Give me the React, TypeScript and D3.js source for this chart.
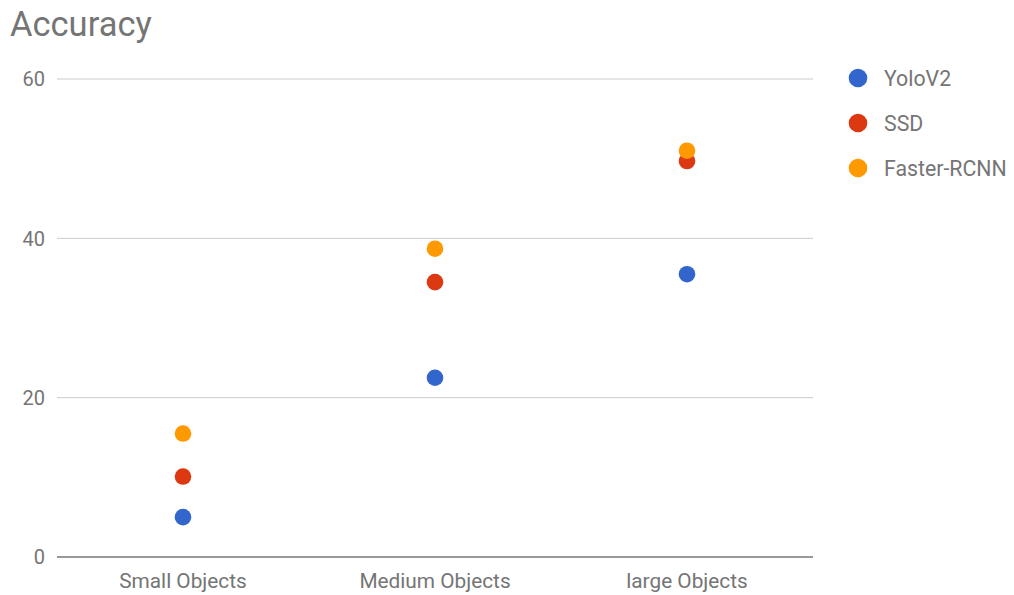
import React from "react";
import * as d3 from "d3";

const categories = ["Small Objects", "Medium Objects", "large Objects"];
const seriesNames = ["YoloV2", "SSD", "Faster-RCNN"];
const yoloV2 = [5.0, 22.5, 35.5];
const ssd = [10.1, 34.5, 49.7];
const fasterRCNN = [15.5, 38.7, 51.0];
const yTicks = [0, 20, 40, 60];
const colors = ["#3366cc", "#dc3912", "#ff9900"];

export default function App() {
  const W = 1014, H = 595;
  const left = 57, right = 813, top = 79, bottom = 557;
  const x = d3.scaleBand<string>().domain(categories).range([left, right]);
  const y = d3.scaleLinear().domain([0, 60]).range([bottom, top]);
  const series = [yoloV2, ssd, fasterRCNN];
  const font = "Roboto, Arial, sans-serif";
  return (
    <svg width={W} height={H} style={{ position: "absolute", left: 0, top: 0 }} fontFamily={font}>
      <rect width={W} height={H} fill="#fff" />
      <text x={10} y={36} fontSize={34.5} fill="#757575">Accuracy</text>
      {yTicks.map((t) => (
        <g key={t}>
          {t !== 0 && <line x1={left} x2={right} y1={y(t)} y2={y(t)} stroke="#cccccc" strokeWidth={1} />}
          <text x={45} y={y(t)} dy="0.36em" textAnchor="end" fontSize={20} fill="#757575">{t}</text>
        </g>
      ))}
      <line x1={left} x2={right} y1={y(0)} y2={y(0)} stroke="#333" strokeWidth={1.2} />
      {categories.map((c) => (
        <text key={c} x={x(c)! + x.bandwidth() / 2} y={588} textAnchor="middle" fontSize={20.8} fill="#757575">{c}</text>
      ))}
      {series.map((vals, si) =>
        vals.map((v, i) => (
          <circle key={si + "-" + i} cx={x(categories[i])! + x.bandwidth() / 2} cy={y(v)} r={8.3} fill={colors[si]} />
        ))
      )}
      {seriesNames.map((n, i) => (
        <g key={n} transform={`translate(858, ${78 + i * 45})`}>
          <circle cx={0} cy={0} r={9.3} fill={colors[i]} />
          <text x={26} y={0} dy="0.36em" fontSize={21.3} fill="#757575">{n}</text>
        </g>
      ))}
    </svg>
  );
}
